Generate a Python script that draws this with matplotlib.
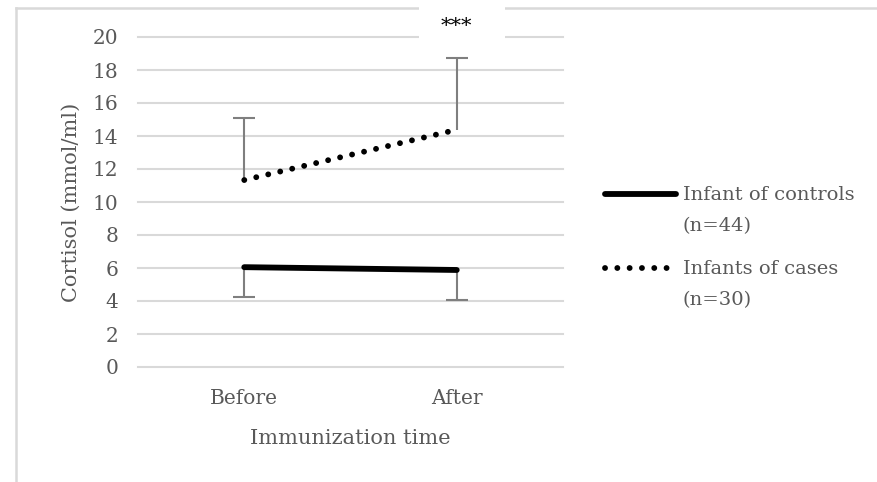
import matplotlib
matplotlib.use("Agg")
import matplotlib.pyplot as plt
import matplotlib.transforms as mtransforms
from matplotlib.lines import Line2D
from matplotlib.patches import Rectangle

# data
times = ["Before", "After"]
controls = [6.05, 5.88]
controls_err_low = [1.82, 1.82]
cases = [11.33, 14.38]
cases_err_up = [3.78, 4.35]
series_labels = ["Infant of controls\n(n=44)", "Infants of cases\n(n=30)"]
yticks = list(range(0, 21, 2))

W, H = 878, 482
plt.rcParams['font.family'] = ['DejaVu Serif']
txt = '#595959'
grid = '#d9d9d9'
dotted = (0, (0.01, 2.1))

fig = plt.figure(figsize=(W / 100, H / 100), dpi=100)
ax = fig.add_axes([138 / W, 1 - 367 / H, (563 - 138) / W, (367 - 37) / H])

x = list(range(len(times)))

# one-sided error bars: hide the cap on the zero side
eb = ax.errorbar(x, controls, yerr=[controls_err_low, [0, 0]], fmt='none',
                 ecolor='#7f7f7f', elinewidth=1.5, capsize=8, capthick=1.5, zorder=2)
eb[1][1].set_visible(False)
eb = ax.errorbar(x, cases, yerr=[[0, 0], cases_err_up], fmt='none',
                 ecolor='#7f7f7f', elinewidth=1.5, capsize=8, capthick=1.5, zorder=2)
eb[1][0].set_visible(False)

ax.plot(x, controls, color='black', lw=4.2, solid_capstyle='round', zorder=3)
ax.plot(x, cases, color='black', lw=4.2, linestyle=dotted,
        dash_capstyle='round', zorder=3)

ax.set_xlim(-0.5, 1.5)
ax.set_ylim(0, 20)
ax.set_xticks(x)
ax.set_xticklabels(times)
ax.set_yticks(yticks)
ax.tick_params(length=0, labelsize=14.5, colors=txt)
ax.tick_params(axis='y', pad=14)
ax.tick_params(axis='x', pad=16)
for s in ax.spines.values():
    s.set_visible(False)
ax.yaxis.grid(True, color=grid, lw=1.5)
for gl in ax.get_ygridlines():
    gl.set_clip_on(False)
ax.set_axisbelow(True)

ax.set_ylabel("Cortisol (mmol/ml)", fontsize=15, color=txt, labelpad=9)
ax.set_xlabel("Immunization time", fontsize=15, color=txt, labelpad=15)

# outer frame (top and left edges visible)
fig.add_artist(Line2D([16.5 / W, 1], [1 - 7.5 / H] * 2, color=grid, lw=1.8))
fig.add_artist(Line2D([16.5 / W] * 2, [0, 1 - 7.5 / H], color=grid, lw=1.8))

# significance marker in a white box
fig.add_artist(Rectangle((419 / W, 1 - 41 / H), 86 / W, 41 / H,
                         facecolor='white', edgecolor='none', zorder=5))
blend = mtransforms.blended_transform_factory(ax.transData, fig.transFigure)
fig.text(1, 1 - 26 / H, "***", ha='center', va='center', fontsize=15,
         color='black', transform=blend, zorder=6)

# legend
fig.add_artist(Line2D([605 / W, 676 / W], [1 - 194 / H] * 2, color='black',
                      lw=4.2, solid_capstyle='round'))
fig.add_artist(Line2D([605 / W, 672 / W], [1 - 268 / H] * 2, color='black',
                      lw=4.2, linestyle=dotted, dash_capstyle='round'))
for yy, lab in zip([194, 268], series_labels):
    fig.text(683 / W, 1 - (yy - 8) / H, lab, ha='left', va='top',
             fontsize=14, color=txt, linespacing=1.9)

fig.savefig("out.png", dpi=100)
